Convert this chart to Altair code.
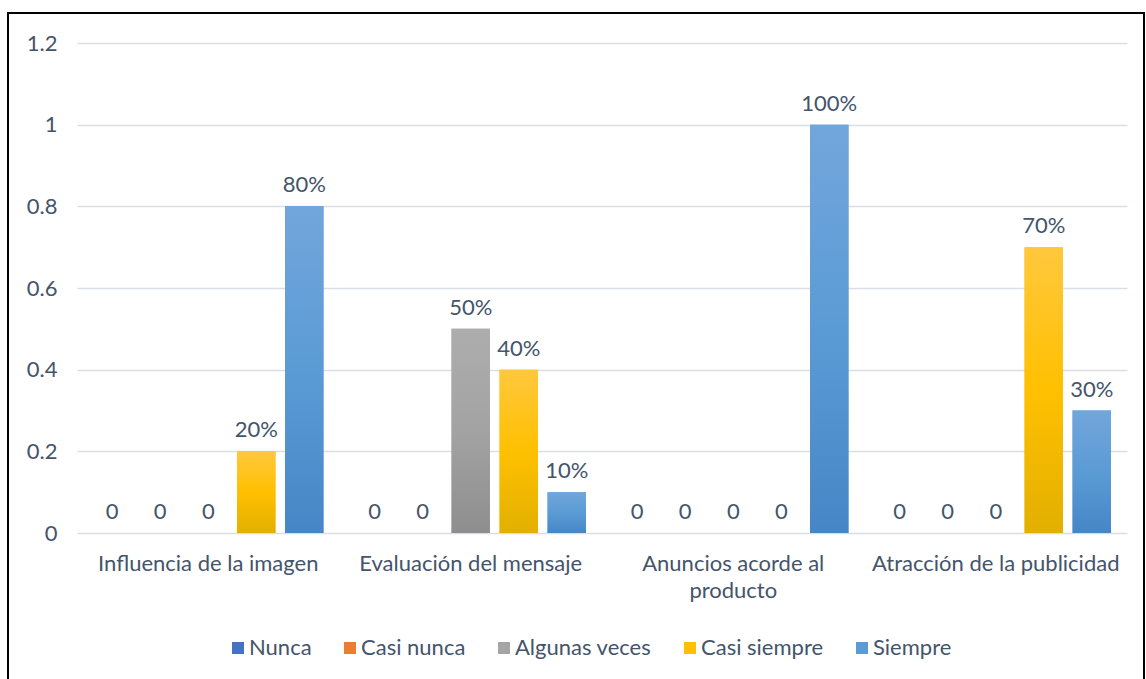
import altair as alt
import pandas as pd

categories = ["Influencia de la imagen", "Evaluación del mensaje",
              "Anuncios acorde al producto", "Atracción de la publicidad"]
series = ["Nunca", "Casi nunca", "Algunas veces", "Casi siempre", "Siempre"]

nunca = [0, 0, 0, 0]
casi_nunca = [0, 0, 0, 0]
algunas_veces = [0, 0.5, 0, 0]
casi_siempre = [0.2, 0.4, 0, 0.7]
siempre = [0.8, 0.1, 1.0, 0.3]

colors = ["#4472C4", "#ED7D31", "#A5A5A5", "#FFC000", "#5B9BD5"]
gradients = {
    "Algunas veces": ["#ADADAD", "#A3A3A3", "#8E8E8E"],
    "Casi siempre": ["#FFC83D", "#FFC000", "#E2B000"],
    "Siempre": ["#72A6DB", "#5B9BD5", "#4686C6"],
}

values_by_series = [nunca, casi_nunca, algunas_veces, casi_siempre, siempre]
rows = []
for s, vals in zip(series, values_by_series):
    for c, v in zip(categories, vals):
        rows.append({"cat": c, "serie": s, "valor": v,
                     "etiqueta": "0" if v == 0 else f"{v * 100:.0f}%"})
df = pd.DataFrame(rows)

FONT = "Lato"
TXT = "#44546A"
FS = 22

x_enc = alt.X("cat:N", sort=categories, title=None,
              scale=alt.Scale(domain=categories, paddingInner=0, paddingOuter=0),
              axis=alt.Axis(labelAngle=0, ticks=False, domain=False, grid=False,
                            labelFontSize=FS, labelColor=TXT, labelFont=FONT,
                            labelPadding=20, labelLimit=400, labelLineHeight=27,
                            labelExpr="datum.label == 'Anuncios acorde al producto' ? ['Anuncios acorde al', 'producto'] : datum.label"))
xo_enc = alt.XOffset("serie:N", sort=series,
                     scale=alt.Scale(domain=series, paddingInner=0.2, paddingOuter=0.334))
y_enc = alt.Y("valor:Q", title=None,
              scale=alt.Scale(domain=[0, 1.2], nice=False),
              axis=alt.Axis(values=[0, 0.2, 0.4, 0.6, 0.8, 1.0, 1.2], format="~g",
                            ticks=False, domain=False, labelPadding=20,
                            labelFontSize=FS, labelColor=TXT, labelFont=FONT,
                            gridColor="#D9DEE6", gridWidth=1.5))

base = alt.Chart(df)

solid = base.mark_bar().encode(
    x=x_enc, xOffset=xo_enc, y=y_enc,
    color=alt.Color("serie:N", sort=series, title=None,
                    scale=alt.Scale(domain=series, range=colors),
                    legend=alt.Legend(orient="none", direction="horizontal",
                                      legendX=150, legendY=594,
                                      symbolType="square", symbolSize=144,
                                      symbolStrokeWidth=0,
                                      labelFontSize=FS, labelColor=TXT, labelFont=FONT,
                                      labelOffset=0, columnPadding=27)),
)

layers = [solid]
for s, st in gradients.items():
    g = alt.Gradient(gradient="linear", x1=0, x2=0, y1=0, y2=1,
                     stops=[alt.GradientStop(offset=0, color=st[0]),
                            alt.GradientStop(offset=0.5, color=st[1]),
                            alt.GradientStop(offset=1, color=st[2])])
    layers.append(base.transform_filter(alt.datum.serie == s)
                  .mark_bar(color=g).encode(x=x_enc, xOffset=xo_enc, y=y_enc))

text = base.mark_text(baseline="middle", dy=-21, fontSize=FS, color=TXT, font=FONT).encode(
    x=x_enc, xOffset=xo_enc, y=y_enc, text="etiqueta:N")
layers.append(text)

border = alt.Chart(pd.DataFrame({"a": [0]})).mark_rect(
    fill="transparent", stroke="black", strokeWidth=2).encode(
    x=alt.value(-69), x2=alt.value(1067), y=alt.value(-30), y2=alt.value(700))
layers.append(border)

chart = alt.layer(*layers).properties(
    width=1050, height=490,
    autosize=alt.AutoSizeParams(type="none"),
    padding={"left": 77, "top": 43, "right": 19, "bottom": 146},
    background="white",
).configure_view(stroke=None)

chart.save("out.html", embed_options={"renderer": "svg", "actions": False})
